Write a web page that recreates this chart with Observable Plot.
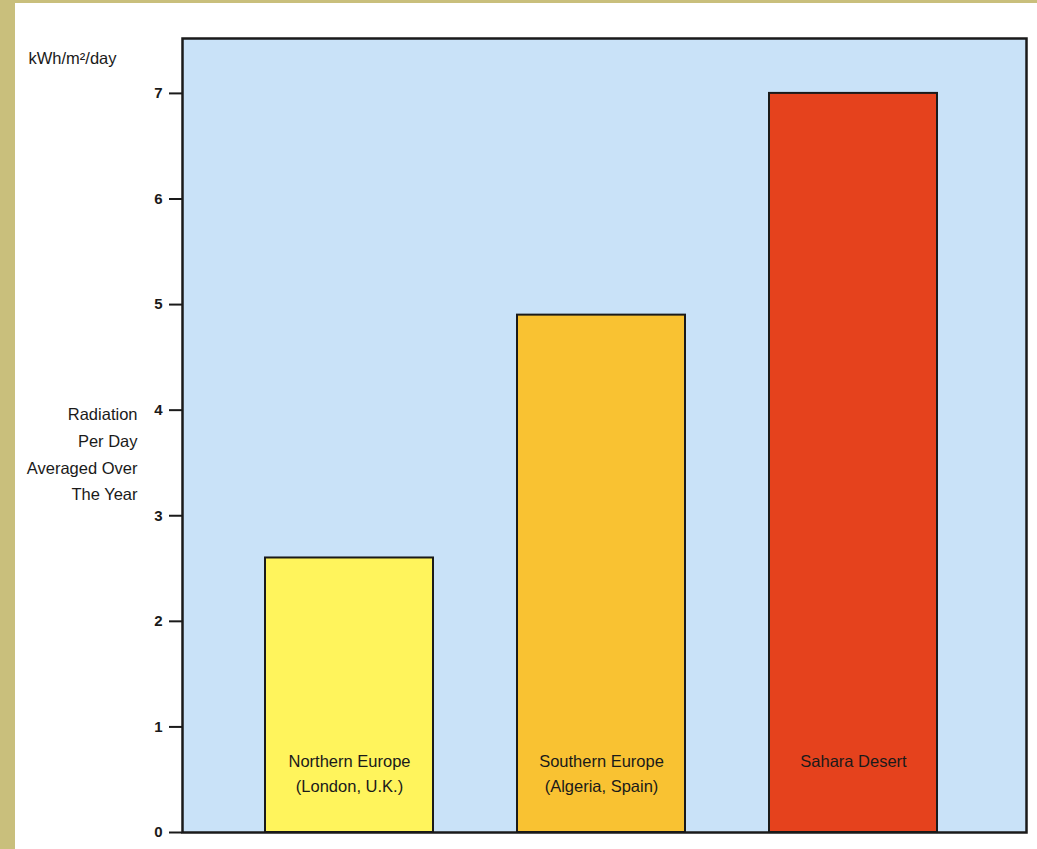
<!DOCTYPE html>
<html>
<head>
<meta charset="utf-8">
<script src="https://cdn.jsdelivr.net/npm/d3@7"></script>
<script src="https://cdn.jsdelivr.net/npm/@observablehq/plot@0.6"></script>
<style>
  html, body { margin: 0; padding: 0; background: #ffffff; }
  #wrap { width: 1022px; height: 846px; border-left: 15px solid #c9bf7c; border-top: 3px solid #c9bf7c; background: #ffffff; overflow: hidden; }
  svg { display: block; }
</style>
</head>
<body>
<div id="wrap"></div>
<script>
const categories = ["Northern Europe", "Southern Europe", "Sahara Desert"];
const subLabels = ["(London, U.K.)", "(Algeria, Spain)", ""];
const values = [2.6, 4.9, 7.0];
const colors = ["#fff45c", "#f9c232", "#e5421d"];
const yTicks = [0, 1, 2, 3, 4, 5, 6, 7];
const unitLabel = "kWh/m²/day";
const axisTitle = "Radiation\nPer Day\nAveraged Over\nThe Year";

const data = categories.map((c, i) => ({
  region: c,
  value: values[i],
  color: colors[i],
  label: subLabels[i] ? c + "\n" + subLabels[i] : c
}));

const font = "'Liberation Sans', Arial, Helvetica, sans-serif";

const chart = Plot.plot({
  width: 1022,
  height: 846,
  marginLeft: 167,
  marginRight: 11,
  marginTop: 35,
  marginBottom: 17,
  style: { fontFamily: font, fontSize: "16px", color: "#222", background: "transparent", overflow: "visible" },
  x: { domain: categories, paddingInner: 0.333, paddingOuter: 0.34, align: 0.48, axis: null },
  y: { domain: [0, 7.52], ticks: yTicks, label: null },
  marks: [
    Plot.frame({ fill: "#c9e2f8", stroke: null }),
    Plot.barY(data, { x: "region", y: "value", fill: "color", stroke: "#1a1a1a", strokeWidth: 2 }),
    Plot.text(data, {
      x: "region", y: 0, text: "label", dy: -83, lineAnchor: "top", lineHeight: 1.5,
      fontSize: 16.5, fill: "#1a1a1a", fontWeight: 500
    }),
    Plot.axisY({ ticks: yTicks, tickSize: 13, tickPadding: 7, tickFormat: d => String(d), fontSize: 15, fontWeight: 600, stroke: "#1a1a1a", strokeWidth: 2, fill: "#1a1a1a", label: null }),
    Plot.text([axisTitle], { frameAnchor: "top-left", y: 4, text: d => d, dx: -45, dy: -9, textAnchor: "end", lineAnchor: "top", lineHeight: 1.62, fontSize: 16.5, fill: "#1a1a1a", fontWeight: 500 }),
    Plot.text([unitLabel], { frameAnchor: "top-left", text: d => d, dx: -154, dy: 14, textAnchor: "start", fontSize: 16.5, fill: "#1a1a1a", fontWeight: 500 }),
    Plot.frame({ stroke: "#1a1a1a", strokeWidth: 2.5 })
  ]
});
document.getElementById("wrap").appendChild(chart);
</script>
</body>
</html>
